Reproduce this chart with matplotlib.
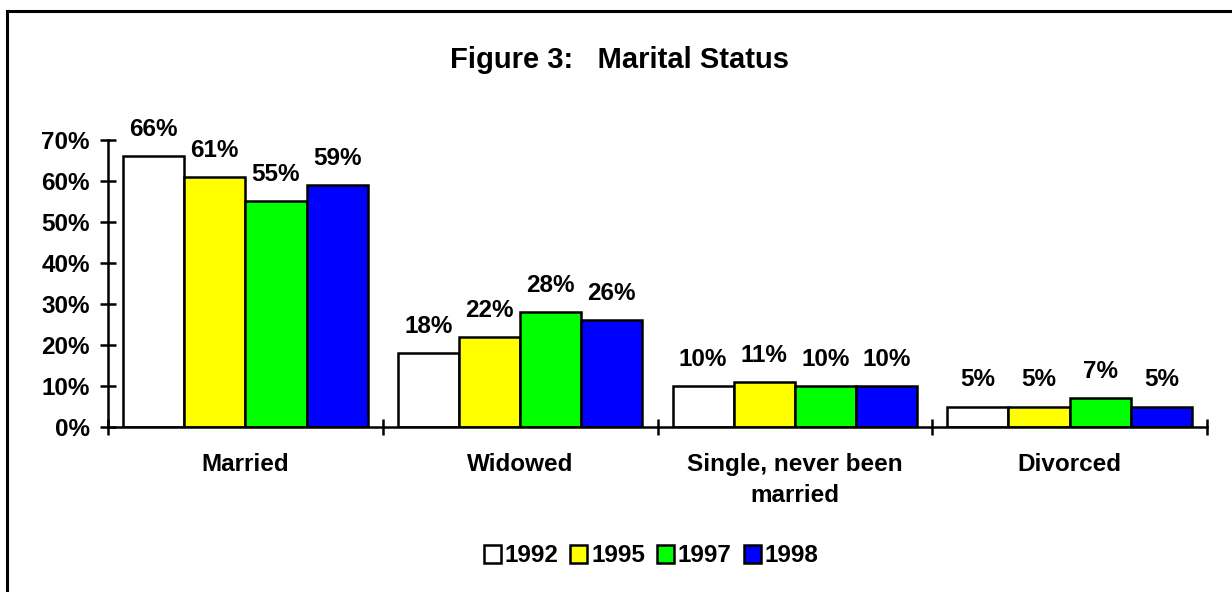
import matplotlib
matplotlib.use("Agg")
import matplotlib.pyplot as plt
from matplotlib.lines import Line2D
from matplotlib.ticker import FuncFormatter
import numpy as np

plt.rcParams['font.family'] = ['Liberation Sans', 'DejaVu Sans']
plt.rcParams['font.weight'] = 'bold'

categories = ['Married', 'Widowed', 'Single, never been\nmarried', 'Divorced']
years = ['1992', '1995', '1997', '1998']
v1992 = [66, 18, 10, 5]
v1995 = [61, 22, 11, 5]
v1997 = [55, 28, 10, 7]
v1998 = [59, 26, 10, 5]
colors = ['#ffffff', '#ffff00', '#00ff00', '#0000ff']

series = [v1992, v1995, v1997, v1998]
FS = 17.5

fig = plt.figure(figsize=(12.32, 5.92), dpi=100)
ax = fig.add_axes([108 / 1232, 1 - 427 / 592, (1207 - 108) / 1232, (427 - 140) / 592])

x = np.arange(len(categories))
w = 0.89 / 4
for i, (vals, col) in enumerate(zip(series, colors)):
    pos = x - 0.445 + w * (i + 0.5)
    ax.bar(pos, vals, width=w, color=col, edgecolor='black', linewidth=1.8, label=years[i])
    for p, v in zip(pos, vals):
        ax.annotate('%d%%' % v, (p, v), xytext=(0, 14.5), textcoords='offset points',
                    ha='center', va='baseline', fontsize=FS, fontweight='bold')

ax.set_xlim(-0.5, len(categories) - 0.5)
ax.set_ylim(0, 70)
ax.set_yticks(range(0, 71, 10))
ax.yaxis.set_major_formatter(FuncFormatter(lambda v, p: '%d%%' % v))
ax.set_xticks(np.arange(-0.5, len(categories), 1.0))
ax.set_xticklabels([])
ax.set_xticks(x, minor=True)
ax.set_xticklabels(categories, minor=True, fontsize=FS, fontweight='bold', linespacing=1.4)
ax.tick_params(axis='x', which='minor', length=0, pad=19)
ax.tick_params(axis='x', which='major', direction='inout', length=12, width=1.8)
ax.tick_params(axis='y', direction='inout', length=12, width=1.8, labelsize=FS, pad=7)
for lab in ax.get_yticklabels():
    lab.set_fontweight('bold')
ax.spines['top'].set_visible(False)
ax.spines['right'].set_visible(False)
ax.spines['left'].set_linewidth(1.8)
ax.spines['bottom'].set_linewidth(1.8)

fig.text(620 / 1232, 1 - 68 / 592, 'Figure 3:   Marital Status', ha='center', va='baseline',
         fontsize=21, fontweight='bold')

leg = fig.legend(loc='center', bbox_to_anchor=(651 / 1232, 1 - 556 / 592), ncol=4, frameon=False,
                 fontsize=FS, handlelength=0.7, handleheight=0.7, handletextpad=0.15,
                 columnspacing=0.5, borderpad=0)
for t in leg.get_texts():
    t.set_fontweight('bold')

# frame on left and top only
fig.add_artist(Line2D([6.5 / 1232, 6.5 / 1232], [0, 1 - 10.5 / 592], color='black', linewidth=2.2,
                      transform=fig.transFigure))
fig.add_artist(Line2D([6.5 / 1232, 1], [1 - 10.5 / 592, 1 - 10.5 / 592], color='black', linewidth=2.2,
                      transform=fig.transFigure))

fig.savefig('out.png', dpi=100)
